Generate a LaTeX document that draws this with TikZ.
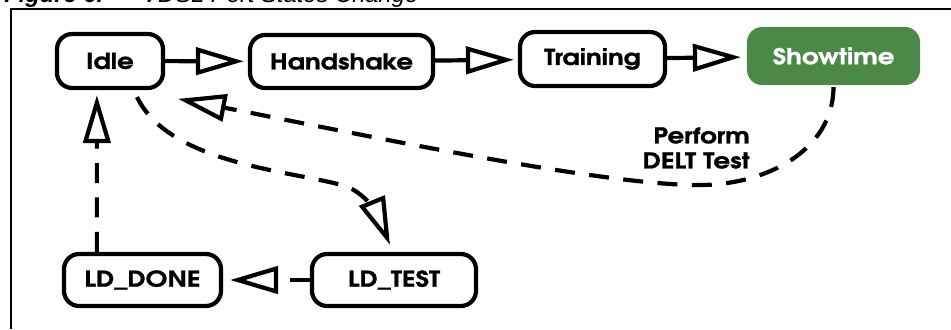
\documentclass[tikz,border=0pt]{standalone}
\usepackage{fontspec}
\newfontfamily\gothic{texgyreadventor-bold.otf}[FakeStretch=1.2,FakeBold=1]
\newfontfamily\capfont{Liberation Sans}
\definecolor{stgreen}{RGB}{74,137,70}
\usetikzlibrary{arrows.meta,calc}

\tikzset{
  state/.style={draw,line width=0.105cm,rounded corners=0.38cm,inner sep=0pt,
    font=\gothic\fontsize{15.5}{17.8}\selectfont},
  live/.style={state,draw=none,fill=stgreen,text=white},
  flow/.style={line width=0.105cm,-{Triangle[open,length=1.2cm,width=0.68cm]},shorten >=0.1cm},
  dashflow/.style={flow,dash pattern=on 0.5cm off 0.36cm},
}

\begin{document}
\begin{tikzpicture}[x=0.025cm,y=-0.025cm]
  \useasboundingbox (0,0) rectangle (951,329);
  \clip (0,0) rectangle (951,329);

  % caption, cut at the top edge
  \node[anchor=base west,inner sep=0pt,font=\capfont\fontsize{16.9}{20}\selectfont] (capnum) at (4,3) {\textbf{\textit{Figure 6.}}};
  \node[anchor=base west,inner sep=0pt,font=\capfont\fontsize{16.9}{20}\selectfont] (captext) at (142,3) {\textit{VDSL Port States Change}};
  \draw[line width=0.0625cm] (951,9) -| (11,329);

  % states
  \node[state,minimum width=2.65cm,minimum height=1.35cm] (idle) at (110,61) {Idle};
  \node[state,minimum width=4.575cm,minimum height=1.325cm] (handshake) at (341.5,61.5) {Handshake};
  \node[state,minimum width=3.625cm,minimum height=1.35cm] (training) at (592.5,59) {Training};
  \node[live,minimum width=4.325cm,minimum height=1.45cm] (showtime) at (833.5,56) {Showtime};
  \node[state,minimum width=3.925cm,minimum height=1.3cm] (lddone) at (142.5,280) {LD\_DONE};
  \node[state,minimum width=4.1cm,minimum height=1.3cm] (ldtest) at (394,280) {LD\_TEST};

  \node[anchor=north east,align=right,inner sep=0pt,font=\gothic\fontsize{15.5}{17.8}\selectfont] (delt) at (750,127) {Perform\\DELT Test};
  \coordinate (dip) at (700,185);
  \coordinate (bend) at (345,186);

  \draw[flow] (idle) -- (handshake);
  \draw[flow] (handshake) -- (training);
  \draw[flow] (training) -- (showtime);

  \draw[dashflow] (showtime.south) .. controls (833,152) and (764,185) .. (dip)
    .. controls (600,186) and (330,128) .. ($(idle.south east)+(9,8)$);
  \draw[dashflow,shorten >=0pt] ($(idle.south)+(27,7)$) .. controls (170,165) and (295,171) .. (bend)
    .. controls (365,192) and (379,218) .. ($(ldtest.north)+(-4,-7)$);
  \draw[dashflow,shorten >=0.175cm] (ldtest) -- (lddone);
  \draw[dashflow,shorten >=0pt] ($(lddone.north west)+(35,0)$) -- ($(idle.south west)+(42,5)$);
\end{tikzpicture}
\end{document}
